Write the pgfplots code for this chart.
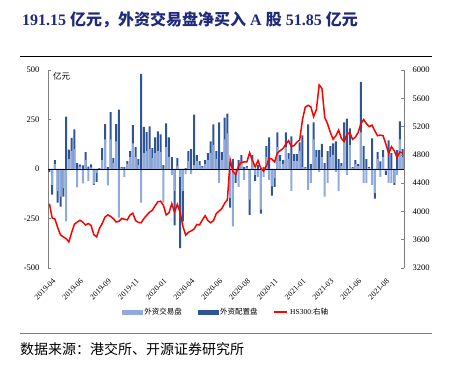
\documentclass[border=0pt]{standalone}
\usepackage{pgfplots}
\pgfplotsset{compat=1.18}
\usepackage{pgfplotstable}
\usepackage{fontspec}
\setmainfont{Liberation Serif}
\newfontfamily\cjk{Noto Sans CJK SC}
\definecolor{lightb}{HTML}{8FAADC}
\definecolor{darkb}{HTML}{2F5597}
\definecolor{titleblue}{HTML}{1F2A7A}
\definecolor{axgray}{HTML}{7F7F7F}

\pgfplotstableread{
i L D H
0 -5 -10 4110
1 -80 -50 3907
2 25 20 3893
3 -110 -60 3770
4 -140 -50 3667
5 -95 -45 3640
6 -265 265 3615
7 50 48 3570
8 90 67 3700
9 100 100 3820
10 -93 30 3850
11 12 10 3875
12 -72 18 3850
13 45 40 3808
14 -60 12 3830
15 8 15 3800
16 -78 -2 3670
17 -20 -45 3640
18 -5 5 3760
19 45 60 3830
20 150 77 3920
21 -83 10 3950
22 150 137 3930
23 30 25 3900
24 140 87 3850
25 -246 300 3860
26 5 5 3900
27 -40 10 3890
28 25 15 3880
29 60 30 3950
30 130 92 3975
31 60 50 3870
32 20 30 3845
33 -170 480 3840
34 80 133 3900
35 90 96 3945
36 100 115 3990
37 55 50 4015
38 80 80 4080
39 90 100 4135
40 85 90 4145
41 -170 20 4085
42 110 120 3950
43 60 100 3980
44 -30 60 4110
45 -110 -175 3990
46 15 40 4100
47 -40 -360 3990
48 -110 -155 3790
49 -25 5 3665
50 40 50 3705
51 -25 100 3725
52 20 255 3750
53 40 30 3815
54 20 20 3810
55 8 7 3880
56 25 20 3940
57 45 35 3870
58 80 60 3840
59 120 105 3870
60 50 40 3970
61 -70 235 4005
62 45 40 4040
63 150 110 4115
64 180 100 4165
65 -147 -48 4730
66 -290 50 4560
67 -22 -48 4520
68 -90 45 4640
69 40 30 4695
70 -55 10 4700
71 8 7 4700
72 -155 -77 4830
73 40 30 4720
74 -30 -30 4630
75 -40 20 4720
76 -205 -21 4610
77 -40 10 4570
78 60 55 4640
79 -55 160 4750
80 -88 -47 4740
81 -45 -45 4700
82 110 75 4830
83 40 30 4860
84 25 20 4890
85 110 75 4950
86 50 30 5000
87 -110 165 4920
88 40 35 4930
89 40 35 4980
90 90 45 5010
91 10 160 5300
92 5 5 5475
93 -105 225 5500
94 -70 25 5480
95 150 85 5340
96 60 35 5440
97 -15 95 5788
98 60 67 5740
99 -140 30 5330
100 -70 90 5240
101 60 55 5120
102 70 60 5020
103 -15 140 5070
104 -110 50 5150
105 15 15 5030
106 140 95 4990
107 -30 255 5090
108 120 85 5115
109 5 5 5020
110 25 20 5050
111 15 10 5115
112 185 255 5240
113 -70 115 5300
114 -70 50 5240
115 5 5 5200
116 -80 155 5220
117 -120 -30 5140
118 50 35 5070
119 -40 38 5080
120 60 35 5070
121 -10 -20 4950
122 -70 145 4820
123 -70 80 4915
124 -70 -10 4860
125 -30 95 4760
126 150 90 4840
127 60 40 4826
}\data

\begin{document}
\begin{tikzpicture}[x=1pt,y=1pt]
\path[use as bounding box] (0,0) rectangle (451,367);
\node[anchor=west, inner sep=0pt, text=titleblue, font=\fontsize{16}{18}\selectfont\bfseries] at (22,347) {191.15 {\cjk\bfseries 亿元，外资交易盘净买入} A {\cjk\bfseries 股} 51.85 {\cjk\bfseries 亿元}};
\draw[black, line width=0.8pt] (20,310.3) -- (432,310.3);
\draw[axgray, line width=0.8pt] (20,34) -- (432,34);
\node[anchor=west, inner sep=0pt, font=\fontsize{14}{16}\selectfont\cjk] at (20,18) {数据来源：港交所、开源证券研究所};

\begin{axis}[at={(48pt,99pt)}, anchor=south west, scale only axis, width=356pt, height=198pt,
 xmin=-0.5, xmax=127.5, ymin=-500, ymax=500,
 axis y line*=left, axis x line*=bottom,
 x axis line style={draw=none},
 y axis line style={axgray, line width=0.6pt},
 ytick={-500,-250,0,250,500},
 ytick style={axgray, line width=0.6pt},
 tick align=inside, major tick length=3pt,
 xtick={0,10,...,120},
 xticklabels={2019-04,2019-06,2019-09,2019-11,2020-01,2020-04,2020-06,2020-08,2020-11,2021-01,2021-03,2021-06,2021-08},
 xtick style={draw=none},
 x tick label style={rotate=45, anchor=north east, inner sep=1pt, font=\fontsize{7.8}{8}\selectfont, xshift=-4pt, yshift=-8pt},
 y tick label style={font=\fontsize{8.5}{9}\selectfont, xshift=-5pt},
 /pgf/number format/assume math mode=true,
 legend style={at={(0.5,-0.222)}, anchor=center, draw=none, fill=none, legend columns=3, font=\fontsize{7.5}{8}\selectfont, /tikz/every even column/.append style={column sep=14pt}},
]
\addplot[ybar, bar width=2pt, bar shift=0pt, fill=darkb, draw=none, forget plot]
  table[x=i, y expr={((\thisrow{L}>0)==(\thisrow{D}>0)) ? (\thisrow{L}+\thisrow{D}) : (\thisrow{D})}]{\data};
\addplot[ybar, bar width=2pt, bar shift=0pt, fill=lightb, draw=none, forget plot]
  table[x=i, y=L]{\data};
\addplot[black, line width=0.8pt, forget plot] coordinates {(-0.5,0) (127.5,0)};
\addlegendimage{legend image code/.code={\fill[lightb] (0pt,-2.2pt) rectangle (20pt,2.2pt);}}
\addlegendentry{{\cjk 外资交易盘}}
\addlegendimage{legend image code/.code={\fill[darkb] (0pt,-2.2pt) rectangle (20pt,2.2pt);}}
\addlegendentry{{\cjk 外资配置盘}}
\addlegendimage{legend image code/.code={\draw[red, line width=1.5pt] (0pt,0pt) -- (13pt,0pt);}}
\addlegendentry{HS300:{\cjk 右轴}}
\node[anchor=north west, inner sep=0pt, font=\fontsize{8.5}{9}\selectfont\cjk] at (rel axis cs:0.014,0.99) {亿元};
\end{axis}

\begin{axis}[at={(48pt,99pt)}, anchor=south west, scale only axis, width=356pt, height=198pt,
 xmin=-0.5, xmax=127.5, ymin=3200, ymax=6000,
 axis y line*=right, axis x line=none,
 y axis line style={axgray, line width=0.6pt},
 ytick={3200,3600,...,6000},
 ytick style={axgray, line width=0.6pt},
 tick align=inside, major tick length=3pt,
 y tick label style={font=\fontsize{8.5}{9}\selectfont, xshift=5pt},
 /pgf/number format/assume math mode=true,
 /pgf/number format/1000 sep={},
]
\addplot[red, line width=1.5pt] table[x=i, y=H]{\data};
\end{axis}
\end{tikzpicture}
\end{document}
